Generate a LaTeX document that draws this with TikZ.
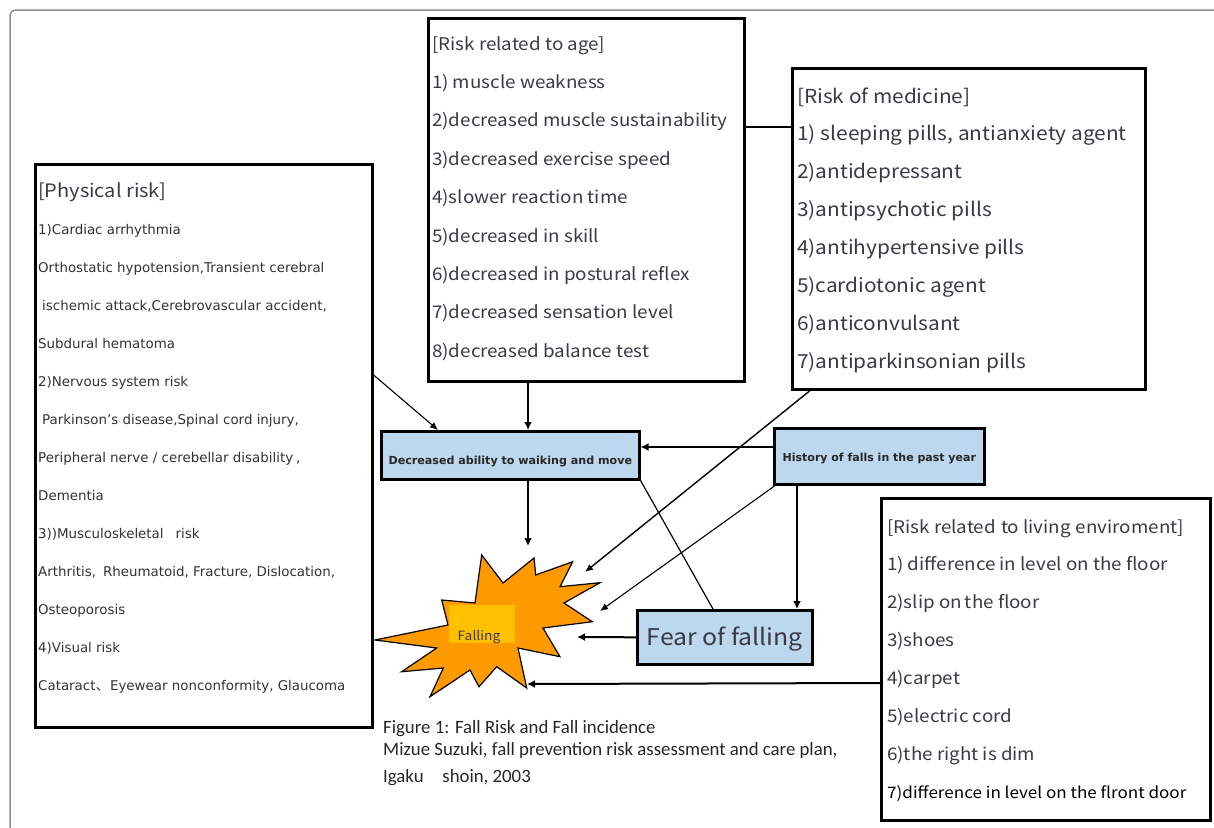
\documentclass[tikz,border=0pt]{standalone}
\usepackage{fontspec}
\usetikzlibrary{arrows.meta}
\usetikzlibrary{positioning}

\newfontfamily\jpfont{Noto Sans CJK JP}[FakeStretch=1.08]
\newfontfamily\verdfont{DejaVu Sans}
\newfontfamily\capfont{Carlito}

\definecolor{boxblue}{HTML}{BDD7EE}
\definecolor{staror}{HTML}{FF9B00}
\definecolor{fallyel}{HTML}{FFC000}
\definecolor{txtgray}{HTML}{3A3A44}
\definecolor{framegray}{HTML}{8C8C8C}

\tikzset{
  riskbox/.style={draw=black, line width=2.6pt, fill=white, inner sep=0pt, anchor=north west},
  bluebox/.style={draw=black, line width=2.6pt, fill=boxblue, inner sep=0pt, anchor=north west},
  itemtxt/.style={anchor=base west, inner sep=0pt, text=txtgray},
  mainarrow/.style={line width=2pt, -{Latex[length=8pt,width=8pt]}},
  thinarrow/.style={line width=1.1pt, -{Latex[length=8pt,width=7pt]}},
}

\begin{document}
\begin{tikzpicture}[x=1pt, y=-1pt]
    \useasboundingbox (0,0) rectangle (1214,827);
    \draw[framegray, line width=1.5pt, rounded corners=6pt] (10,850) -- (10,10) -- (1240,10);

    % boxes
    \node[riskbox, minimum width=337pt, minimum height=563pt] (phys) at (34,163) {};
    \node[riskbox, minimum width=316pt, minimum height=363pt] (age) at (427,17) {};
    \node[riskbox, minimum width=353pt, minimum height=321pt] (med) at (791,67) {};
    \node[riskbox, minimum width=329pt, minimum height=322pt] (env) at (880,497) {};
    \node[bluebox, minimum width=258pt, minimum height=48pt] (dec) at (380,430) {};
    \node[bluebox, minimum width=210pt, minimum height=56pt] (hist) at (773,427) {};
    \node[bluebox, minimum width=175pt, minimum height=54pt] (fear) at (636,609) {};

    % box texts
    \node[itemtxt, font=\jpfont\fontsize{18.5}{20}\selectfont] (phys0) at (38,197) {[Physical risk]};
    \foreach \txt [count=\i] in {{1)Cardiac arrhythmia},
        {Orthostatic hypotension,Transient cerebral},
        {\hspace{4pt}ischemic attack,Cerebrovascular accident,},
        {Subdural hematoma},
        {2)Nervous system risk},
        {\hspace{4pt}Parkinson’s disease,Spinal cord injury,},
        {Peripheral nerve / cerebellar disability\hspace{3pt},},
        {Dementia},
        {3))Musculoskeletal\hspace{12pt}risk},
        {Arthritis,\hspace{7pt}Rheumatoid, Fracture, Dislocation,},
        {Osteoporosis},
        {4)Visual risk},
        {Cataract{\jpfont 、}Eyewear nonconformity, Glaucoma}}
      \node[itemtxt, text=black!80, font=\verdfont\fontsize{13.4}{15}\selectfont] (phys\i) at (38, {234+(\i-1)*38}) {\txt};

    \foreach \txt [count=\i] in {{[Risk related to age]},
        {1)\hspace{4pt}muscle weakness},
        {2)decreased muscle sustainability},
        {3)decreased exercise speed},
        {4)slower reaction time},
        {5)decreased in skill},
        {6)decreased in postural reflex},
        {7)decreased sensation level},
        {8)decreased balance test}}
      \node[itemtxt, font=\jpfont\fontsize{17.4}{20}\selectfont] (age\i) at (432, {50+(\i-1)*38.4}) {\txt};

    \foreach \txt [count=\i] in {{[Risk of medicine]},
        {1)\hspace{5pt}sleeping pills, antianxiety agent},
        {2)antidepressant},
        {3)antipsychotic pills},
        {4)antihypertensive pills},
        {5)cardiotonic agent},
        {6)anticonvulsant},
        {7)antiparkinsonian pills}}
      \node[itemtxt, font=\jpfont\fontsize{19.3}{22}\selectfont] (med\i) at (797, {103+(\i-1)*37.9}) {\txt};

    \foreach \txt [count=\i] in {{[Risk related\hspace{5pt}to living\hspace{5pt}enviroment]},
        {1)\hspace{4pt}difference in level on the floor},
        {2)slip on\hspace{3pt}the floor},
        {3)shoes},
        {4)carpet},
        {5)electric cord},
        {6)the right is dim}}
      \node[itemtxt, font=\jpfont\fontsize{17.4}{20}\selectfont] (env\i) at (887, {533+(\i-1)*37.9}) {\txt};
    \node[itemtxt, text=black, font=\jpfont\fontsize{15.8}{20}\selectfont] (env7) at (887,798) {7)difference in level on the flront door};

    \node[font=\verdfont\bfseries\fontsize{11.1}{13}\selectfont, text=black!85, anchor=base] (dectxt) at (dec.center |- 0,464) {Decreased ability to waiking and move};
    \node[font=\verdfont\bfseries\fontsize{11}{13}\selectfont, text=black!85, anchor=base] (histtxt) at (hist.center |- 0,461) {History of falls in the past year};
    \node[font=\jpfont\fontsize{23}{26}\selectfont, text=txtgray, anchor=base] (feartxt) at (fear.center |- 0,645) {Fear of falling};

    % falling star
    \filldraw[fill=staror, draw=black, line width=1.2pt]
      (481.7,555) -- (503,583) -- (534,558) -- (535.7,575) -- (572.7,561.7) -- (560,586.7)
      -- (600,582.7) -- (564,603) -- (592.3,621.7) -- (543,628) -- (560,656.7) -- (518,648)
      -- (526.7,688) -- (496.7,666.7) -- (479,686.7) -- (470,670) -- (430,696.7) -- (443.3,668)
      -- (401.7,671.7) -- (436.7,648) -- (375,640) -- (448,625) -- (441.7,600) -- (475,603) -- cycle;
    \node[fill=fallyel, minimum width=66pt, minimum height=38pt, inner sep=0pt, anchor=north west] (fallbox) at (449,605) {};
    \node[font=\jpfont\fontsize{12.8}{16}\selectfont, text=txtgray, anchor=base] (fall) at (479,640) {Falling};

    \coordinate (starT) at (528,546);
    \coordinate (starR) at (577,637);
    \coordinate (starB) at (527,684);
    \coordinate (starM) at (585,572);
    \coordinate (starH) at (600,611);

    % connectors
    \draw[line width=2pt] ([yshift=-110pt]age.north east) -- ([yshift=-60pt]med.north west);
    \draw[mainarrow] ([xshift=101pt]age.south west) -- ([xshift=148pt]dec.north west);
    \draw[mainarrow] ([xshift=148pt]dec.south west) -- (starT);
    \draw[mainarrow] ([yshift=-20pt]hist.north west) -- ([yshift=-17pt]dec.north east);
    \draw[mainarrow] ([xshift=24pt]hist.south west) -- ([xshift=161pt]fear.north west);
    \draw[mainarrow] (fear.west) -- (starR);
    \draw[mainarrow] ([yshift=-186pt]env.north west) -- (starB);
    \draw[thinarrow, line width=1.4pt] ([xshift=19pt]med.south west) -- (starM);
    \draw[thinarrow] ([xshift=2pt]hist.south west) -- (starH);
    \draw[thinarrow] ([yshift=-212pt]phys.north east) -- ([xshift=58pt]dec.north west);
    \draw[line width=1.2pt] (dec.south east) -- ([xshift=77pt]fear.north west);

    % caption
    \foreach \txt [count=\i] in {{Figure 1: Fall Risk and Fall incidence},
        {Mizue Suzuki, fall prevention risk assessment and care plan,}}
      \node[anchor=base west, inner sep=0pt, font=\capfont\fontsize{18.8}{20}\selectfont, text=black!85] (cap\i) at (383, {733+(\i-1)*22}) {\txt};
    \node[anchor=base west, inner sep=0pt, font=\capfont\fontsize{18.8}{20}\selectfont, text=black!85] (cap3) at (383,782) {Igaku\quad shoin, 2003};
\end{tikzpicture}
\end{document}
